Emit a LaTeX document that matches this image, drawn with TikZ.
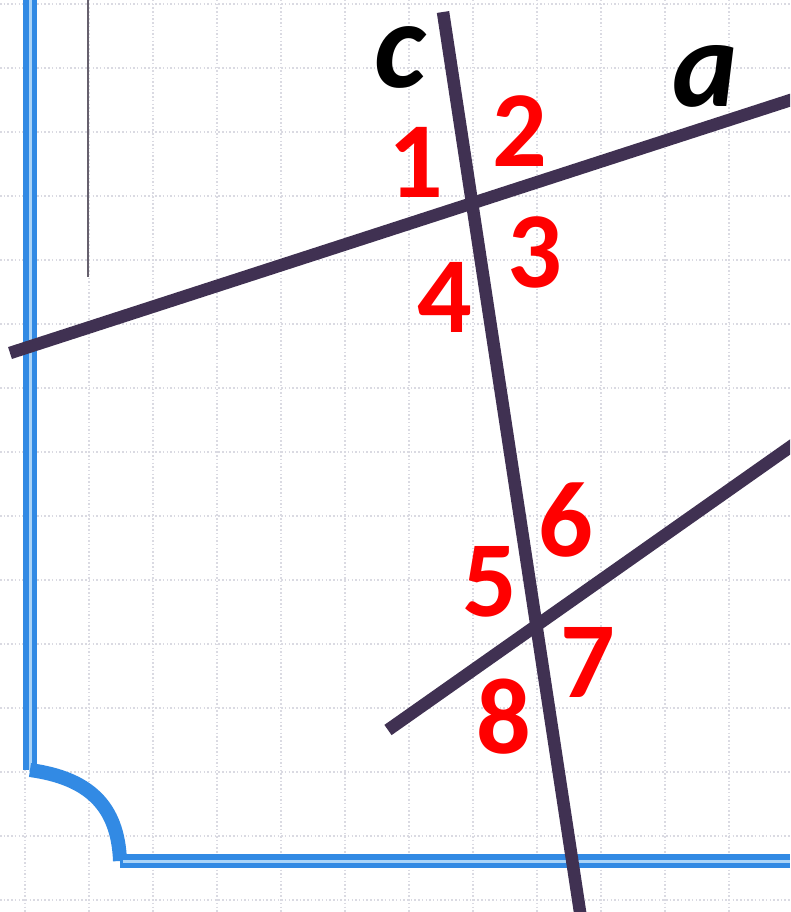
\documentclass[tikz,border=0pt]{standalone}
\usepackage{fontspec}
\setmainfont{Carlito}
\definecolor{linepurple}{RGB}{64,49,82}
\definecolor{borderblue}{RGB}{50,138,228}
\definecolor{borderlight}{RGB}{170,212,248}
\definecolor{gridgray}{RGB}{218,218,226}
\begin{document}
\begin{tikzpicture}[x=1pt,y=-1pt,
  gridline/.style={gridgray, line width=1.2pt, dash pattern=on 1.5pt off 2.2pt},
  thinrule/.style={draw=gray!60!linepurple, line width=1.4pt},
  borderouter/.style={borderblue, line width=14pt},
  borderinner/.style={borderlight, line width=3pt},
  bordercorner/.style={borderblue, line width=14pt},
  geoline/.style={linepurple, line width=12.5pt},
  anglenum/.style={text=red, inner sep=0pt, anchor=base, font=\fontsize{108}{108}\selectfont\bfseries},
  linename/.style={text=black, inner sep=0pt, anchor=base, font=\fontsize{124}{124}\selectfont\bfseries\itshape}
]
\useasboundingbox (0,0) rectangle (790,912);
\clip (0,0) rectangle (790,912);
\fill[white] (0,0) rectangle (790,912);
% grid
\foreach \gx in {25,89,153,217,281,345,409,473,537,601,665,729}
  \draw[gridline] (\gx,0) -- (\gx,912);
\foreach \gy in {4,68,132,196,260,324,388,452,516,580,644,708,772,836,900}
  \draw[gridline] (0,\gy) -- (790,\gy);
% thin vertical rule
\coordinate (rt) at (88,0);
\coordinate (rb) at (88,277);
\draw[thinrule] (rt) -- (rb);
% blue border
\coordinate (bt) at (30,0);
\coordinate (bc1) at (30,770);
\coordinate (bc2) at (120,861);
\coordinate (br) at (790,861);
\draw[borderouter] (bt) -- (bc1);
\draw[borderinner] (bt) -- ([yshift=-2pt]bc1);
\draw[bordercorner] (bc1) .. controls (88,778) and (118,805) .. (bc2);
\draw[borderouter] (bc2) -- (br);
\draw[borderinner] ([xshift=3pt]bc2) -- (br);
% geometry lines
\coordinate (ct) at (443,12);
\coordinate (cb) at (582,925);
\coordinate (al) at (10,353);
\coordinate (ar) at (800,97);
\coordinate (bl) at (388,730);
\coordinate (brr) at (800,440);
\draw[geoline] (al) -- (ar);
\draw[geoline] (bl) -- (brr);
\draw[geoline] (ct) -- (cb);
% labels
\node[linename] (lc) at (400,88) {c};
\node[linename] (la) at (705,107) {a};
\node[anglenum] (n1) at (416,197) {1};
\node[anglenum] (n2) at (520,167) {2};
\node[anglenum] (n3) at (535,287) {3};
\node[anglenum] (n4) at (445,332) {4};
\node[anglenum] (n5) at (490,616) {5};
\node[anglenum] (n6) at (566,556) {6};
\node[anglenum] (n7) at (588,697) {7};
\node[anglenum] (n8) at (504,753) {8};
\end{tikzpicture}
\end{document}
